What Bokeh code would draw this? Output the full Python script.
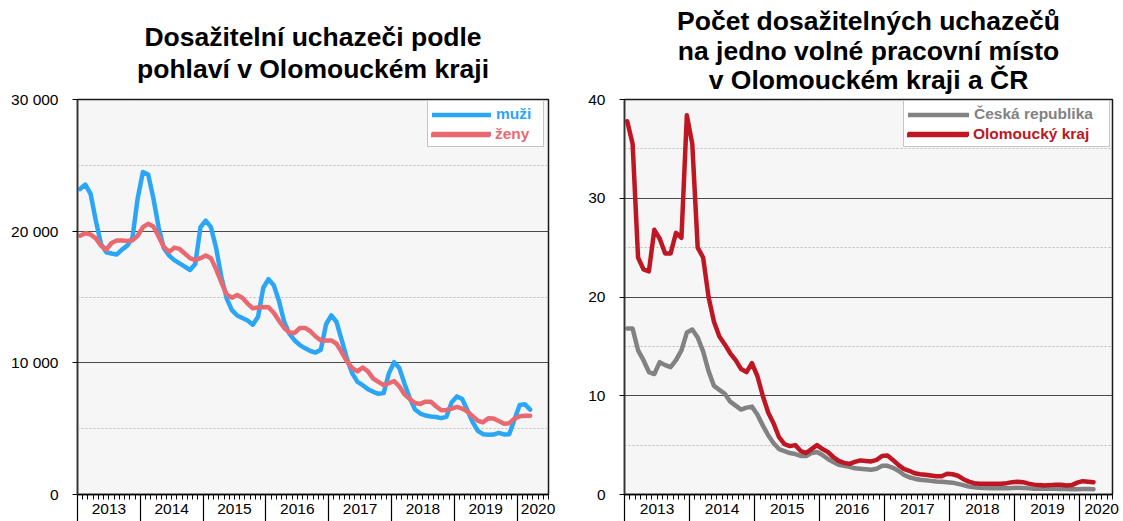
from bokeh.plotting import figure
from bokeh.layouts import row
from bokeh.models import Range1d, FixedTicker, Legend, LegendItem, Title
from bokeh.embed import file_html
from bokeh.resources import INLINE

FONT = "Liberation Sans"

# ---------------- data (monthly, Jan 2013 - Mar 2020) ----------------
months = list(range(87))  # month index, 0 = January 2013

men = [23200, 23540, 22830, 20800, 19000, 18400, 18300, 18230, 18600, 18900, 19500, 22500,
       24500, 24300, 22500, 20300, 18700, 18150, 17800, 17550, 17300, 17050, 17500, 20300,
       20800, 20300, 18700, 16500, 14900, 14000, 13600, 13400, 13220, 12900, 13500, 15700,
       16350, 15900, 14700, 13100, 12200, 11700, 11350, 11100, 10900, 10780, 11000, 12930,
       13600, 13100, 11700, 10300, 9200, 8550, 8300, 8000, 7800, 7650, 7700, 9200,
       10050, 9600, 8400, 7300, 6450, 6150, 6000, 5920, 5880, 5800, 5900, 7000,
       7450, 7250, 6400, 5500, 4840, 4580, 4530, 4550, 4680, 4560, 4570, 5700,
       6800, 6850, 6450]

women = [19650, 19850, 19750, 19450, 18900, 18600, 19100, 19290, 19290, 19260, 19300, 19650,
         20300, 20560, 20350, 19600, 18800, 18420, 18750, 18650, 18300, 17950, 17800, 17950,
         18150, 17950, 17100, 16100, 15200, 14950, 15150, 14950, 14500, 14150, 14200, 14240,
         14220, 13800, 13200, 12650, 12300, 12270, 12650, 12650, 12400, 12000, 11700, 11700,
         11700, 11450, 10800, 10100, 9600, 9350, 9650, 9350, 8800, 8550, 8300, 8450,
         8620, 8200, 7600, 7240, 6950, 6880, 7050, 7050, 6700, 6400, 6420, 6520,
         6650, 6520, 6300, 5950, 5600, 5480, 5800, 5780, 5580, 5380, 5420, 5750,
         5950, 5980, 5980]

cz = [16.8, 16.8, 14.6, 13.6, 12.4, 12.2, 13.4, 13.1, 12.9, 13.6, 14.6, 16.4,
      16.7, 15.9, 14.5, 12.5, 11.0, 10.6, 10.2, 9.4, 9.0, 8.6, 8.8, 8.9,
      8.1, 7.0, 6.0, 5.2, 4.6, 4.4, 4.2, 4.1, 3.9, 3.9, 4.2, 4.3,
      4.0, 3.6, 3.3, 3.0, 2.9, 2.8, 2.65, 2.6, 2.55, 2.5, 2.6, 2.9,
      2.9, 2.7, 2.4, 2.0, 1.75, 1.6, 1.5, 1.45, 1.38, 1.32, 1.3, 1.25,
      1.2, 1.08, 0.95, 0.8, 0.74, 0.68, 0.65, 0.64, 0.64, 0.64, 0.64, 0.66,
      0.68, 0.67, 0.62, 0.58, 0.57, 0.57, 0.57, 0.57, 0.56, 0.55, 0.54, 0.54,
      0.55, 0.55, 0.54]

olo = [37.8, 35.5, 24.0, 22.8, 22.6, 26.8, 25.9, 24.4, 24.4, 26.5, 26.0, 38.4,
       35.5, 25.0, 24.0, 20.0, 17.5, 16.0, 15.2, 14.3, 13.6, 12.7, 12.4, 13.3,
       12.0, 10.0, 8.3, 7.2, 5.8, 5.1, 4.9, 5.0, 4.4, 4.2, 4.6, 5.0,
       4.6, 4.3, 3.8, 3.4, 3.2, 3.1, 3.3, 3.45, 3.4, 3.35, 3.5, 3.9,
       3.95, 3.5, 3.0, 2.6, 2.4, 2.15, 2.05, 2.0, 1.92, 1.85, 1.85, 2.1,
       2.05, 1.9, 1.55, 1.3, 1.15, 1.1, 1.08, 1.08, 1.08, 1.08, 1.15, 1.25,
       1.28, 1.25, 1.1, 1.0, 0.95, 0.92, 0.95, 1.0, 0.98, 0.92, 0.95, 1.2,
       1.35, 1.3, 1.25]

years = ["2013", "2014", "2015", "2016", "2017", "2018", "2019", "2020"]
year_label_months = [6, 18, 30, 42, 54, 66, 78, 88]
year_start_months = [0, 12, 24, 36, 48, 60, 72, 84]
axis_end_month = 90

left_yticks = [0, 10000, 20000, 30000]
left_yminor = [5000, 15000, 25000]
left_ylabels = ["0", "10 000", "20 000", "30 000"]
right_yticks = [0, 10, 20, 30, 40]
right_yminor = [5, 15, 25, 35]
right_ylabels = ["0", "10", "20", "30", "40"]

left_title = ["Dosažitelní uchazeči podle", "pohlaví v Olomouckém kraji"]
right_title = ["Počet dosažitelných uchazečů", "na jedno volné pracovní místo",
               "v Olomouckém kraji a ČR"]

xs = [m + 0.5 for m in months]


def style(p, yticks, yminor, ylabels, title_lines, standoffs):
    p.background_fill_color = "#f6f6f6"
    p.border_fill_color = "white"
    p.outline_line_color = "#1a1a1a"
    p.outline_line_width = 1.5
    # x axis: month ticks, long year separators, year labels mid-year
    ax = p.xaxis[0]
    ax.ticker = FixedTicker(ticks=list(range(0, axis_end_month + 1)), minor_ticks=year_start_months)
    ov = {t: "" for t in range(0, axis_end_month + 1)}
    for pos, lab in zip(year_label_months, years):
        ov[pos] = lab
    ax.major_label_overrides = ov
    ax.major_tick_out = 5
    ax.major_tick_in = 0
    ax.minor_tick_out = 27
    ax.minor_tick_in = 0
    ax.major_tick_line_color = "black"
    ax.minor_tick_line_color = "black"
    ax.minor_tick_line_width = 1.2
    ax.axis_line_color = "black"
    ax.axis_line_width = 1.5
    ax.major_label_standoff = -18
    ax.major_label_text_font = FONT
    ax.major_label_text_font_size = "15.5px"
    ax.major_label_text_color = "black"
    # y axis
    ay = p.yaxis[0]
    ay.ticker = FixedTicker(ticks=yticks, minor_ticks=yminor)
    ay.major_label_overrides = dict(zip(yticks, ylabels))
    ay.major_tick_out = 5
    ay.major_tick_in = 0
    ay.minor_tick_out = 0
    ay.minor_tick_in = 0
    ay.major_tick_line_color = "black"
    ay.axis_line_color = "#333333"
    ay.axis_line_width = 1.5
    ay.major_label_standoff = 14
    ay.major_label_text_font = FONT
    ay.major_label_text_font_size = "15.5px"
    ay.major_label_text_color = "black"
    # grids
    p.xgrid.visible = False
    p.ygrid.grid_line_color = "#4a4a4a"
    p.ygrid.grid_line_width = 1
    p.ygrid.minor_grid_line_color = "#bdbdbd"
    p.ygrid.minor_grid_line_dash = "2 2"
    # titles (first added is closest to the plot)
    for line, so in zip(reversed(title_lines), standoffs):
        t = Title(text=line, align="center", text_font=FONT, text_font_size="26.5px",
                  text_font_style="bold", text_color="black", standoff=so)
        p.add_layout(t, "above")


def legends(p, r1, r2, lab1, lab2, c1, c2, loc, gw, lw):
    common = dict(location=loc, padding=4, spacing=2, margin=0,
                  glyph_width=gw, glyph_height=17, label_height=17, label_standoff=5,
                  label_width=lw,
                  label_text_font=FONT, label_text_font_size="15.5px",
                  label_text_font_style="bold")
    la = Legend(items=[LegendItem(label=lab1, renderers=[r1]),
                       LegendItem(label=" ", renderers=[r2])],
                border_line_color="#8c8c8c", border_line_width=1,
                background_fill_color="white", background_fill_alpha=1.0,
                label_text_color=c1, **common)
    lb = Legend(items=[LegendItem(label=lab2, renderers=[r2])],
                border_line_alpha=0, background_fill_alpha=0,
                label_text_color=c2, **common)
    p.add_layout(la)
    p.add_layout(lb)


# ---------------- left chart ----------------
p1 = figure(width=575, height=521, x_range=Range1d(0, axis_end_month), y_range=Range1d(0, 30000),
            output_backend="svg", toolbar_location=None,
            min_border_left=77, min_border_right=27, min_border_top=99, min_border_bottom=27)
style(p1, left_yticks, left_yminor, left_ylabels, left_title, [30.4, -29.6])
blue = "#2ba6f7"
pink = "#e86a70"
rm = p1.line(xs, men, line_color=blue, line_width=4.5, line_join="round", line_cap="round")
rw = p1.line(xs, women, line_color=pink, line_width=4.5, line_join="round", line_cap="round")
legends(p1, rm, rw, "muži", "ženy", blue, pink, (350, 347), 59, 43)

# ---------------- right chart ----------------
p2 = figure(width=548, height=521, x_range=Range1d(0, axis_end_month), y_range=Range1d(0, 40),
            output_backend="svg", toolbar_location=None,
            min_border_left=49, min_border_right=11, min_border_top=99, min_border_bottom=27)
style(p2, right_yticks, right_yminor, right_ylabels, right_title, [8.4, -12.6, 8.4])
grey = "#828282"
dred = "#be1622"
rc = p2.line(xs, cz, line_color=grey, line_width=4.5, line_join="round", line_cap="round")
ro = p2.line(xs, olo, line_color=dred, line_width=4.5, line_join="round", line_cap="round")
legends(p2, rc, ro, "Česká republika", "Olomoucký kraj", grey, dred, (279, 347), 61, 131)

layout = row(p1, p2)
open("out.html", "w").write(file_html(layout, INLINE))
